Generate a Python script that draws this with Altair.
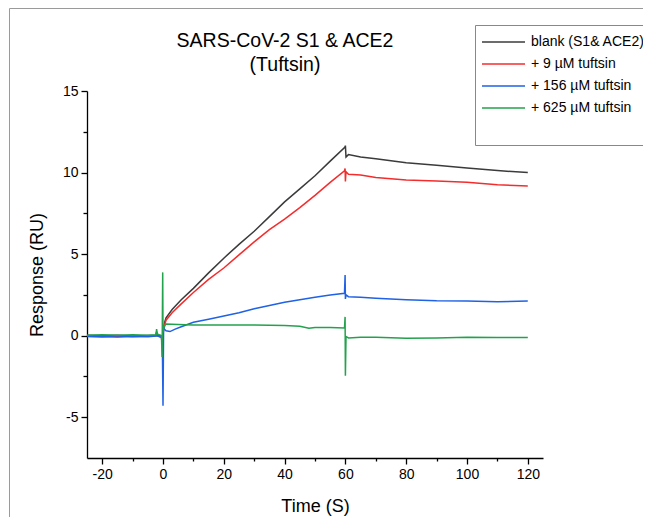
import altair as alt
import pandas as pd

series = ["blank (S1& ACE2)", "+ 9 µM tuftsin", "+ 156 µM tuftsin", "+ 625 µM tuftsin"]
colors = ["#3b3b3b", "#f52c2c", "#1f62e6", "#23a24d"]

t_black = [-25, -20, -15, -10, -5, -2.3, -2.1, -1.9, -0.5, -0.2, 0, 0.3, 0.6, 1, 3, 6, 10, 15, 20, 25, 30, 35, 40, 45, 50, 55,
           59.8, 60, 60.2, 61, 65, 70, 80, 90, 100, 110, 120]
v_black = [0.02, 0.0, 0.03, -0.02, 0.01, 0.03, 0.25, 0.03, 0.0, -0.4, 0.3, 0.6, 0.85, 1.1, 1.6, 2.2, 2.9, 3.85, 4.75, 5.6,
           6.4, 7.3, 8.2, 9.0, 9.8, 10.7, 11.55, 11.65, 10.95, 11.1, 10.95, 10.85, 10.6, 10.45, 10.28, 10.12, 10.0]

t_red = [-25, -20, -15, -10, -5, -2.3, -2.1, -1.9, -0.5, -0.2, 0, 0.3, 0.6, 1, 3, 6, 10, 15, 20, 25, 30, 35, 40, 45, 50, 55,
         59.7, 59.9, 60, 60.2, 61, 65, 70, 80, 90, 100, 110, 120]
v_red = [-0.05, -0.08, -0.03, -0.06, -0.04, 0.0, 0.2, 0.0, -0.1, -0.6, 0.1, 0.4, 0.7, 0.95, 1.4, 1.95, 2.65, 3.45, 4.15, 4.95,
         5.75, 6.5, 7.15, 7.85, 8.6, 9.4, 10.1, 10.25, 9.45, 10.05, 9.9, 9.85, 9.7, 9.55, 9.48, 9.4, 9.25, 9.18]

t_blue = [-25, -20, -15, -10, -5, -2.3, -2.1, -1.9, -0.5, -0.2, 0, 0.2, 0.5, 1, 2.3, 4, 6, 10, 15, 20, 25, 30, 35, 40, 45, 50,
          55, 59.7, 59.9, 60, 60.2, 61, 65, 70, 80, 90, 100, 110, 120]
v_blue = [-0.03, -0.05, -0.08, -0.04, -0.06, -0.02, 0.1, -0.02, -0.1, -0.8, -4.3, 0.5, 0.4, 0.3, 0.25, 0.4, 0.55, 0.82, 1.0,
          1.2, 1.4, 1.65, 1.85, 2.05, 2.2, 2.35, 2.5, 2.6, 3.72, 2.25, 2.5, 2.39, 2.35, 2.3, 2.2, 2.14, 2.13, 2.08, 2.13]

t_green = [-25, -20, -15, -10, -5, -2.3, -2.1, -1.9, -0.5, -0.3, -0.1, 0, 0.2, 0.6, 1, 5, 10, 20, 30, 40, 45, 48, 50, 55,
           59.7, 59.9, 60, 60.2, 61, 65, 70, 80, 90, 100, 110, 120]
v_green = [0.03, 0.06, 0.02, 0.05, 0.03, 0.05, 0.4, 0.1, 0.0, -1.3, 3.88, 0.2, 0.45, 0.62, 0.72, 0.68, 0.65, 0.65, 0.65,
           0.62, 0.58, 0.45, 0.5, 0.5, 0.47, 1.15, -2.45, -0.05, -0.14, -0.1, -0.1, -0.16, -0.14, -0.1, -0.12, -0.12]

x_ticks = [-20, -10, 0, 10, 20, 30, 40, 50, 60, 70, 80, 90, 100, 110, 120]
y_ticks = [-5, -2.5, 0, 2.5, 5, 7.5, 10, 12.5, 15]

rows = []
for name, ts, vs in zip(series, [t_black, t_red, t_blue, t_green], [v_black, v_red, v_blue, v_green]):
    for t, v in zip(ts, vs):
        rows.append({"series": name, "t": t, "v": v})
df = pd.DataFrame(rows)

FONT = "Liberation Sans"

lines = alt.Chart(df).mark_line(strokeWidth=1.5, clip=True).encode(
    x=alt.X("t:Q",
            scale=alt.Scale(domain=[-25, 125], nice=False, zero=False),
            axis=alt.Axis(values=x_ticks, title="Time (S)",
                          labelExpr="datum.value % 20 == 0 ? '' + datum.value : ''",
                          tickSize={"condition": {"test": "datum.value % 20 != 0", "value": 3}, "value": 6},
                          titlePadding=16)),
    y=alt.Y("v:Q",
            scale=alt.Scale(domain=[-7.5, 15], nice=False, zero=False),
            axis=alt.Axis(values=y_ticks, title="Response (RU)",
                          labelExpr="datum.value % 5 == 0 ? '' + datum.value : ''",
                          tickSize={"condition": {"test": "datum.value % 5 != 0", "value": 4}, "value": 6},
                          titlePadding=16)),
    color=alt.Color("series:N",
                    scale=alt.Scale(domain=series, range=colors),
                    legend=alt.Legend(title=" ", titleOrient="bottom", titleFontSize=14, titlePadding=6,
                                      orient="none", legendX=388, legendY=-66,
                                      symbolType="stroke", symbolSize=1849, symbolStrokeWidth=1.5,
                                      labelFontSize=14, labelFont=FONT, labelColor="black",
                                      clipHeight=22, rowPadding=0, padding=6, labelOffset=5,
                                      strokeColor="#888888", fillColor="white", labelLimit=220)),
)

frame_df = pd.DataFrame({"k": [0]})
frame_left = alt.Chart(frame_df).mark_rule(color="#9a9a9a", strokeWidth=1).encode(
    x=alt.value(-77.5), y=alt.value(-82.5), y2=alt.value(440))
frame_top = alt.Chart(frame_df).mark_rule(color="#9a9a9a", strokeWidth=1).encode(
    x=alt.value(-77.5), x2=alt.value(600), y=alt.value(-82.5))

chart = alt.layer(frame_left, frame_top, lines).properties(
    width=456, height=367,
    padding={"left": 79, "top": 83, "right": 100, "bottom": 64},
    autosize=alt.AutoSizeParams(type="none"),
    title=alt.TitleParams(text=["SARS-CoV-2 S1 & ACE2", "(Tuftsin)"], fontSize=19.5, fontWeight="normal",
                          font=FONT, color="black", anchor="middle", frame="group", dx=-30, dy=83, offset=16,
                          lineHeight=24),
).configure_view(stroke=None).configure_axis(
    grid=False, domainColor="black", tickColor="black", domainWidth=1.3, tickWidth=1.3,
    labelFont=FONT, titleFont=FONT, labelFontSize=14, titleFontSize=18, titleFontWeight="normal",
    labelColor="black", titleColor="black", labelPadding=3,
)

chart.save("out.html", embed_options={"renderer": "svg", "actions": False})
